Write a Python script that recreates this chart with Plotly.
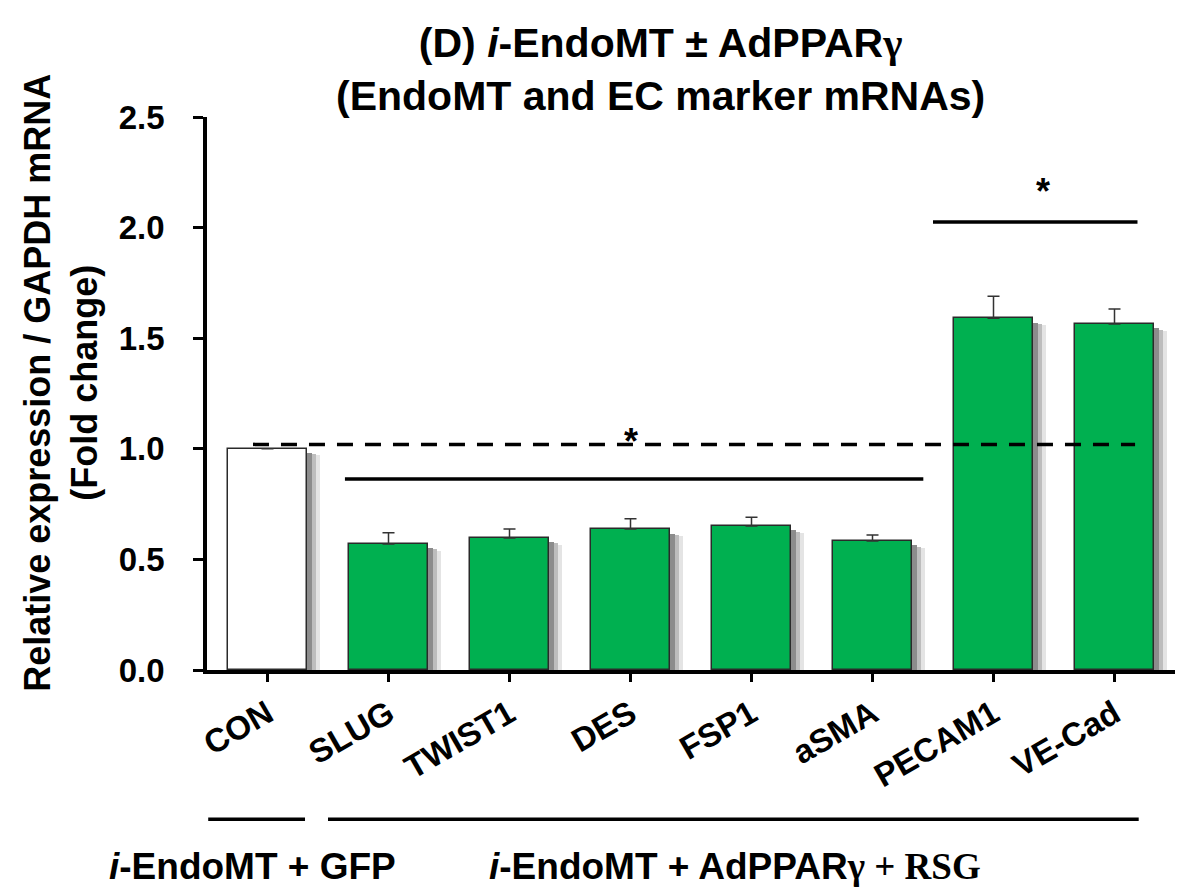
import plotly.graph_objects as go

# Fold-change data (relative expression / GAPDH mRNA)
genes = ["CON", "SLUG", "TWIST1", "DES", "FSP1", "aSMA", "PECAM1", "VE-Cad"]
fold_change = [1.00, 0.57, 0.597, 0.637, 0.651, 0.583, 1.59, 1.564]
sem = [0.0, 0.05, 0.04, 0.047, 0.04, 0.027, 0.10, 0.068]
bar_colors = ["#FFFFFF"] + ["#00B050"] * 7

y_ticks = [0.0, 0.5, 1.0, 1.5, 2.0, 2.5]
y_tick_text = ["0.0", "0.5", "1.0", "1.5", "2.0", "2.5"]

# Reference level (dashed) and significance brackets: (x0, x1, y)
reference_level = (-0.12, 7.17, 1.02)
sig_brackets = [(0.64, 5.42, 0.864), (5.50, 7.19, 2.025)]
sig_stars = [(3.0, 1.035), (6.41, 2.165)]

# Group bars below the axis: (x0, x1)
group_lines = [(-0.49, 0.31), (0.50, 7.20)]

FONT = "Liberation Sans, Arial, sans-serif"
SERIF = "Liberation Serif, Times New Roman, serif"
BAR_W = 0.66
PX = 1 / 121.0  # one pixel in category units

fig = go.Figure()

# soft drop shadow behind each bar
for shift, col, drop in [(13, "#e4e4e4", 0.03), (9, "#bdbdbd", 0.025), (5, "#8c8c8c", 0.02)]:
    fig.add_trace(go.Bar(
        x=list(range(len(genes))), y=[v - drop for v in fold_change],
        width=BAR_W, offset=-BAR_W / 2 + shift * PX,
        marker=dict(color=col, line=dict(width=0)),
        hoverinfo="skip", showlegend=False,
    ))

fig.add_trace(go.Bar(
    x=list(range(len(genes))), y=fold_change,
    width=BAR_W, offset=-BAR_W / 2,
    marker=dict(color=bar_colors, line=dict(color="#2a2a2a", width=1.5)),
    error_y=dict(type="data", array=sem, arrayminus=[0] * len(sem), symmetric=False,
                 color="#333333", thickness=1.5, width=6),
    showlegend=False,
))

shapes = []
x0, x1, yv = reference_level
shapes.append(dict(type="line", xref="x", yref="y", x0=x0, x1=x1, y0=yv, y1=yv,
                   line=dict(color="black", width=3.5, dash="16px,12px")))
for a, b, yv in sig_brackets:
    shapes.append(dict(type="line", xref="x", yref="y", x0=a, x1=b, y0=yv, y1=yv,
                       line=dict(color="black", width=3.5)))
for a, b in group_lines:
    shapes.append(dict(type="line", xref="x", yref="paper", x0=a, x1=b, y0=-0.27, y1=-0.27,
                       line=dict(color="black", width=3.5)))

annotations = []
for sx, sy in sig_stars:
    annotations.append(dict(x=sx, y=sy, xref="x", yref="y", text="<b>*</b>", showarrow=False,
                            xanchor="center", yanchor="middle",
                            font=dict(family=FONT, size=36, color="black")))

gamma = f"<span style='font-family:{SERIF}'>γ</span>"
annotations.append(dict(
    x=0.468, y=1.085, xref="paper", yref="paper", showarrow=False,
    xanchor="center", yanchor="middle",
    text=f"<b>(D) <i>i</i>-EndoMT ± AdPPAR{gamma}<br>(EndoMT and EC marker mRNAs)</b>",
    font=dict(family=FONT, size=41, color="black"), align="center",
))
annotations.append(dict(
    x=-0.151, y=0.519, xref="paper", yref="paper", showarrow=False, textangle=-90,
    xanchor="center", yanchor="middle",
    text="<b>Relative expression / GAPDH mRNA<br>(Fold change)</b>",
    font=dict(family=FONT, size=36, color="black"), align="center",
))
annotations.append(dict(
    x=-0.103, y=-0.355, xref="paper", yref="paper", xanchor="left", yanchor="middle",
    showarrow=False, text="<b><i>i</i>-EndoMT + GFP</b>",
    font=dict(family=FONT, size=37, color="black"),
))
annotations.append(dict(
    x=0.289, y=-0.355, xref="paper", yref="paper", xanchor="left", yanchor="middle",
    showarrow=False,
    text=f"<b><i>i</i>-EndoMT + AdPPAR{gamma}<span style='font-family:{SERIF}'> + RSG</span></b>",
    font=dict(family=FONT, size=37, color="black"),
))

fig.update_layout(
    width=1186, height=888,
    margin=dict(l=207, r=11, t=117, b=218),
    plot_bgcolor="white", paper_bgcolor="white",
    barmode="overlay", bargap=0,
    shapes=shapes, annotations=annotations,
    xaxis=dict(
        range=[-0.5, 7.5], tickmode="array", tickvals=list(range(len(genes))), ticktext=genes,
        tickangle=-30, ticks="outside", ticklen=8, tickwidth=3, tickcolor="black",
        showline=True, linecolor="black", linewidth=3.5, showgrid=False, zeroline=False,
        tickfont=dict(family=FONT, size=33, color="black", weight="bold"),
    ),
    yaxis=dict(
        range=[0, 2.5], tickmode="array", tickvals=y_ticks, ticktext=y_tick_text,
        ticks="outside", ticklen=10, tickwidth=3, tickcolor="black", ticklabelstandoff=22,
        showline=True, linecolor="black", linewidth=3.5, showgrid=False, zeroline=False,
        tickfont=dict(family=FONT, size=33, color="black", weight="bold"),
    ),
)

fig.write_html("out.html")
